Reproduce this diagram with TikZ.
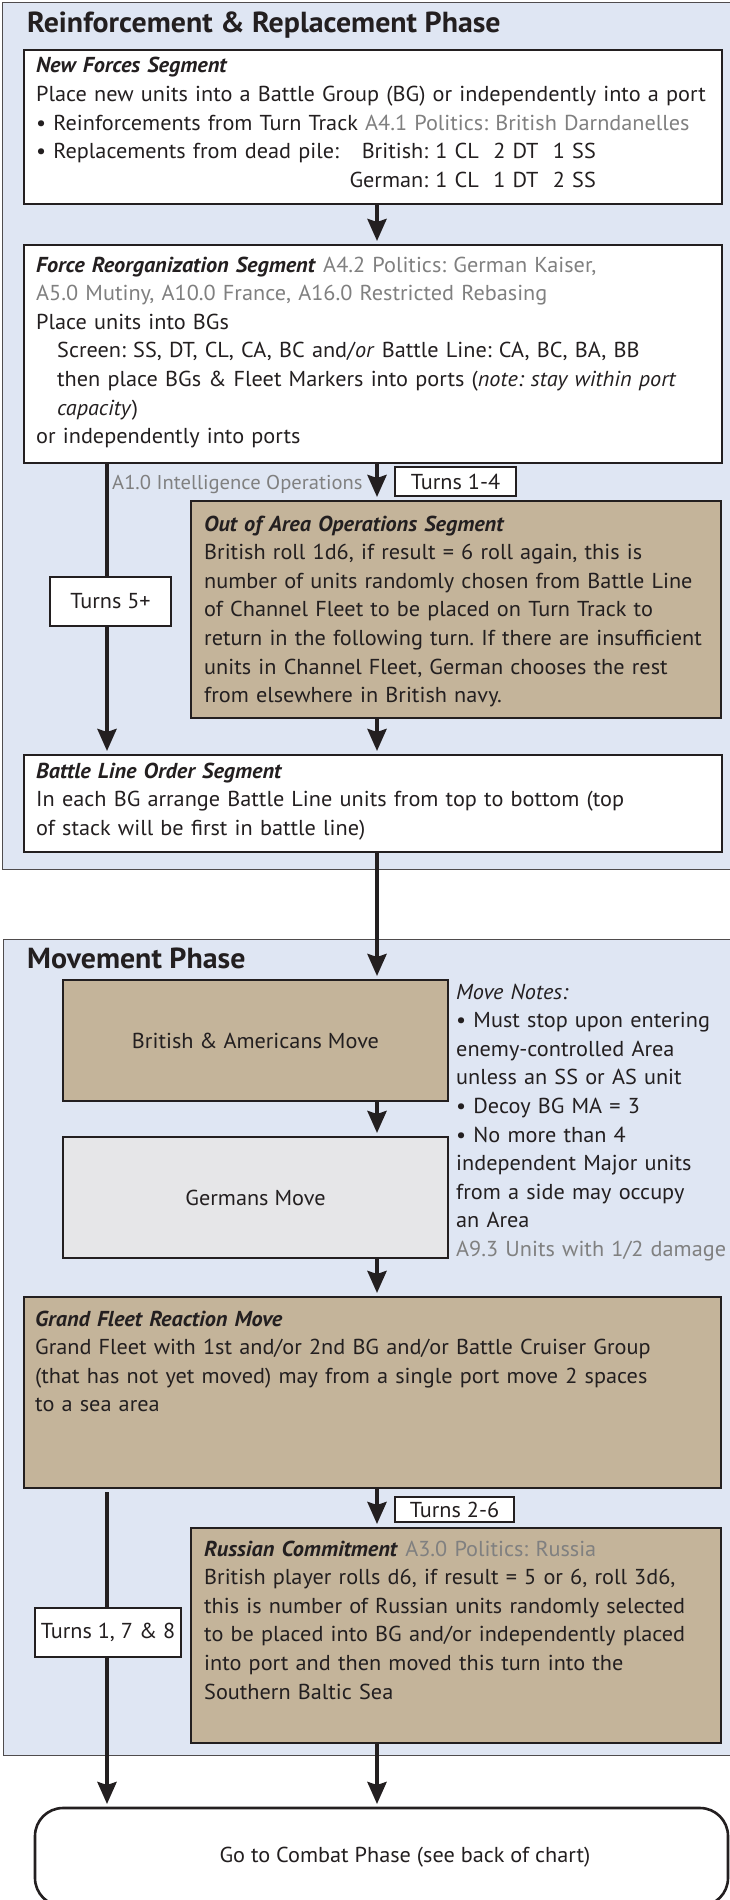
\documentclass[tikz,border=0pt]{standalone}
\usepackage{fontspec}
\setmainfont{PT Sans}[FakeStretch=1.03]
\usepackage{xcolor}
\usetikzlibrary{arrows.meta}

\definecolor{panelblue}{RGB}{223,230,243}
\definecolor{segtan}{RGB}{196,180,154}
\definecolor{movegray}{RGB}{230,230,232}
\definecolor{notegray}{RGB}{128,128,128}
\definecolor{ink}{RGB}{35,31,32}

\newcommand{\rulenote}[1]{\textcolor{notegray}{#1}}
\newcommand{\seghead}[1]{\textbf{\textit{#1}}}

\begin{document}
\frenchspacing
\begin{tikzpicture}[x=1pt, y=-1pt,
    font=\fontsize{21.6}{28.6}\selectfont, text=ink,
    panel/.style={draw=ink!80, line width=1pt, fill=panelblue},
    segbox/.style={draw=ink, line width=2.6pt, fill=white, anchor=north west, inner sep=0pt, outer sep=0pt},
    tanbox/.style={segbox, fill=segtan},
    segtext/.style={anchor=base west, align=left, inner sep=0pt, text width=#1},
    segtext/.default=720pt,
    turnbox/.style={draw=ink, line width=2pt, fill=white, inner sep=0pt, outer sep=0pt},
    phase/.style={anchor=base west, inner sep=0pt, font=\fontsize{29}{32}\selectfont\bfseries},
    trunk/.style={draw=ink, line width=4pt},
    flow/.style={trunk, -{Stealth[width=19pt, length=22pt, inset=3pt]}, shorten >=4pt}]
    \useasboundingbox (0,0) rectangle (730,1900);

    % Reinforcement & Replacement Phase
    \draw[panel] (2,3) rectangle (740,869);
    \node[phase] (reinftitle) at (27,33) {Reinforcement \& Replacement Phase};

    % New Forces Segment
    \node[segbox, minimum width=698pt, minimum height=154pt] (newforces) at (24,50) {};
    \node[segtext] (newforcestext) at (36,73) {\seghead{New Forces Segment}\\
        Place new units into a Battle Group (BG) or independently into a port\\
        • Reinforcements from Turn Track \rulenote{A4.1 Politics: British Darndanelles}\\
        \makebox[304pt][l]{• Replacements from dead pile:}\makebox[88pt][r]{British:} 1 CL\ \ 2 DT\ \ 1 SS\\
        \hspace*{304pt}\makebox[88pt][r]{German:} 1 CL\ \ 1 DT\ \ 2 SS};

    % Force Reorganization Segment
    \node[segbox, minimum width=698pt, minimum height=218pt] (reorg) at (24,245) {};
    \node[segtext] (reorgtext) at (36,272) {\seghead{Force Reorganization Segment} \rulenote{A4.2 Politics: German Kaiser,}\\
        \rulenote{A5.0 Mutiny, A10.0 France, A16.0 Restricted Rebasing}\\
        Place units into BGs\\
        \hspace*{21pt}Screen: SS, DT, CL, CA, BC and/\textit{or} Battle Line: CA, BC, BA, BB\\
        \hspace*{21pt}then place BGs \& Fleet Markers into ports (\textit{note: stay within port}\\
        \hspace*{21pt}\textit{capacity})\\
        or independently into ports};

    % Intelligence note and turn labels
    \node[anchor=base west, inner sep=0pt, text=notegray, font=\fontsize{20}{24}\selectfont] (intelnote) at (112,489) {A1.0 Intelligence Operations};
    \node[turnbox, minimum width=121pt, minimum height=29pt] (turnsfour) at (455.5,481.5) {Turns 1-4};

    % Out of Area Operations Segment
    \node[tanbox, minimum width=530pt, minimum height=217pt] (outarea) at (191,501) {};
    \node[segtext] (outareatext) at (204,531) {\seghead{Out of Area Operations Segment}\\
        British roll 1d6, if result = 6 roll again, this is\\
        number of units randomly chosen from Battle Line\\
        of Channel Fleet to be placed on Turn Track to\\
        return in the following turn. If there are insufficient\\
        units in Channel Fleet, German chooses the rest\\
        from elsewhere in British navy.};
    \node[turnbox, minimum width=121pt, minimum height=49pt] (turnsfive) at (110.5,601.5) {Turns 5+};

    % Battle Line Order Segment
    \node[segbox, minimum width=698pt, minimum height=97pt] (battleline) at (24,755) {};
    \node[segtext] (battlelinetext) at (36,778) {\seghead{Battle Line Order Segment}\\
        In each BG arrange Battle Line units from top to bottom (top\\
        of stack will be first in battle line)};

    % Movement Phase
    \draw[panel] (3,939) rectangle (740,1755);
    \node[phase] (movetitle) at (27,968) {Movement Phase};

    \node[tanbox, minimum width=385pt, minimum height=121pt] (british) at (63,980) {British \& Americans Move};
    \node[segbox, fill=movegray, minimum width=385pt, minimum height=121pt] (germans) at (63,1137) {Germans Move};
    \node[segtext=400pt] (movenotes) at (456,999) {\textit{Move Notes:}\\
        • Must stop upon entering\\
        enemy-controlled Area\\
        unless an SS or AS unit\\
        • Decoy BG MA = 3\\
        • No more than 4\\
        independent Major units\\
        from a side may occupy\\
        an Area\\
        \rulenote{A9.3 Units with 1/2 damage}};

    % Grand Fleet Reaction Move
    \node[tanbox, minimum width=697pt, minimum height=191pt] (grandfleet) at (24,1297) {};
    \node[segtext] (grandfleettext) at (35,1326) {\seghead{Grand Fleet Reaction Move}\\
        Grand Fleet with 1st and/or 2nd BG and/or Battle Cruiser Group\\
        (that has not yet moved) may from a single port move 2 spaces\\
        to a sea area};
    \node[turnbox, minimum width=119pt, minimum height=25pt] (turnstwo) at (454.5,1509.5) {Turns 2-6};

    % Russian Commitment
    \node[tanbox, minimum width=530pt, minimum height=215pt] (russian) at (191,1528) {};
    \node[segtext] (russiantext) at (204,1556) {\seghead{Russian Commitment} \rulenote{A3.0 Politics: Russia}\\
        British player rolls d6, if result = 5 or 6, roll 3d6,\\
        this is number of Russian units randomly selected\\
        to be placed into BG and/or independently placed\\
        into port and then moved this turn into the\\
        Southern Baltic Sea};
    \node[turnbox, minimum width=146pt, minimum height=49pt] (turnsone) at (108,1632.5) {Turns 1, 7 \& 8};

    % Combat Phase
    \node[segbox, rounded corners=28pt, minimum width=693pt, minimum height=98pt] (combat) at (35,1808) {};
    \node[inner sep=0pt] (combattext) at (405,1857) {Go to Combat Phase (see back of chart)};

    % Connectors
    \coordinate (spine) at (377,0);
    \coordinate (side) at (107,0);
    \draw[flow] (newforces.south -| spine) -- (reorg.north -| spine);
    \draw[flow] (reorg.south -| spine) -- (outarea.north -| spine);
    \draw[flow] (outarea.south -| spine) -- (battleline.north -| spine);
    \draw[trunk] (reorg.south -| side) -- (turnsfive.north -| side);
    \draw[flow] (turnsfive.south -| side) -- (battleline.north -| side);
    \draw[flow] (battleline.south -| spine) -- (british.north -| spine);
    \draw[flow] (british.south -| spine) -- (germans.north -| spine);
    \draw[flow] (germans.south -| spine) -- (grandfleet.north -| spine);
    \draw[flow] (grandfleet.south -| spine) -- (russian.north -| spine);
    \draw[trunk, shorten <=4pt] (grandfleet.south -| side) -- (turnsone.north -| side);
    \draw[flow] (turnsone.south -| side) -- (combat.north -| side);
    \draw[flow] (russian.south -| spine) -- (combat.north -| spine);
\end{tikzpicture}
\end{document}
